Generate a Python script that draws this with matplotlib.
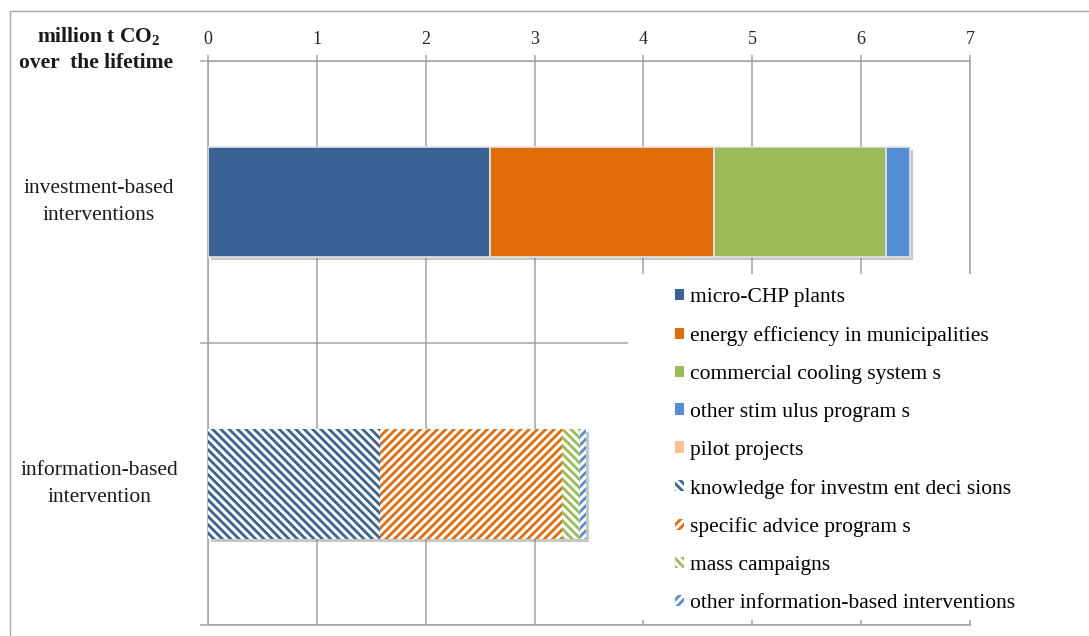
import numpy as np
import matplotlib
matplotlib.use('Agg')
import matplotlib.pyplot as plt
import matplotlib.transforms as mtransforms
from matplotlib import patheffects as pe
from matplotlib.patches import Patch, Rectangle
from matplotlib.lines import Line2D

plt.rcParams['font.family'] = ['Liberation Serif', 'DejaVu Serif']
plt.rcParams['mathtext.fontset'] = 'custom'
plt.rcParams['mathtext.rm'] = 'Liberation Serif'
plt.rcParams['mathtext.bf'] = 'Liberation Serif:bold'
plt.rcParams['hatch.linewidth'] = 2.0

# savings in million t CO2 over the lifetime
categories = ['investment-based\ninterventions', 'information-based\nintervention']

investment_names = ['micro-CHP plants', 'energy efficiency in municipalities',
                    'commercial cooling system s', 'other stim ulus program s', 'pilot projects']
investment_values = [2.59, 2.06, 1.58, 0.22, 0.0]
investment_colors = ['#386394', '#e36c0a', '#9bbb59', '#558ed5', '#fac090']

information_names = ['knowledge for investm ent deci sions', 'specific advice program s',
                     'mass campaigns', 'other information-based interventions']
information_values = [1.58, 1.67, 0.17, 0.05]
information_colors = ['#386394', '#e36c0a', '#9bbb59', '#558ed5']
information_hatches = ['\\\\\\\\', '////', '\\\\\\\\', '////']

grid_c = '#a3a3a3'
bar_h = 0.39

fig = plt.figure(figsize=(10.89, 6.36), dpi=100)
ax = fig.add_axes([208 / 1089, 1 - 625 / 636, (970 - 208) / 1089, (625 - 61) / 636])

# drop shadow behind each stacked bar
for y, vals in [(0, investment_values), (1, information_values)]:
    ax.barh(y, sum(vals), height=bar_h, color='white', lw=0, zorder=2,
            path_effects=[pe.SimplePatchShadow(offset=(2, -2.5), shadow_rgbFace='0.45', alpha=0.4),
                          pe.Normal()])

left = 0
for v, c in zip(investment_values, investment_colors):
    if v > 0:
        ax.barh(0, v, left=left, height=bar_h, color=c, edgecolor='#e4e4e4', lw=1.2, zorder=3)
    left += v

left = 0
for v, c, h in zip(information_values, information_colors, information_hatches):
    ax.barh(1, v, left=left, height=bar_h, facecolor='white', edgecolor=c, hatch=h, lw=0, zorder=3)
    left += v

ax.set_xlim(0, 7)
ax.set_ylim(1.5, -0.5)
ax.xaxis.tick_top()
ax.set_xticks(np.arange(0, 8))
ax.tick_params(axis='x', direction='out', length=4.5, width=1.1, color=grid_c,
               pad=5, labelsize=13, labelcolor='#262626')
ax.set_yticks([0, 1])
ax.set_yticklabels([])
ax.set_yticks([-0.5, 0.5, 1.5], minor=True)
ax.tick_params(axis='y', which='major', length=0)
ax.tick_params(axis='y', which='minor', direction='out', length=6, width=1.1, color=grid_c)
ax.grid(axis='x', which='major', color=grid_c, lw=1.1)
ax.grid(axis='y', which='minor', color=grid_c, lw=1.1)
ax.set_axisbelow(True)
for s in ax.spines.values():
    s.set_color(grid_c)
    s.set_linewidth(1.1)

# category labels centred in the left margin
trans = mtransforms.blended_transform_factory(fig.transFigure, ax.transData)
for i, lab in enumerate(categories):
    ax.text(99 / 1089, i, lab, transform=trans, ha='center', va='center',
            multialignment='center', fontsize=15.5, color='#1a1a1a', linespacing=1.55)

fig.text(99 / 1089, 1 - 37 / 636, r'million t CO$_\mathbf{2}$', ha='center', va='center',
         fontsize=15.5, fontweight='bold', color='#1a1a1a')
fig.text(96 / 1089, 1 - 63 / 636, 'over  the lifetime', ha='center', va='center',
         fontsize=15.5, fontweight='bold', color='#1a1a1a')

# white panel under the legend
fig.add_artist(Rectangle((628 / 1089, 1 - 620 / 636), (1060 - 628) / 1089, (620 - 274) / 636,
                         transform=fig.transFigure, facecolor='white', edgecolor='none', zorder=4))

handles = [Patch(facecolor=c, edgecolor=c, lw=0) for c in investment_colors]
handles += [Patch(facecolor='white', edgecolor=c, hatch=h, lw=0)
            for c, h in zip(information_colors, information_hatches)]
labels = investment_names + information_names
fig.legend(handles, labels, loc='upper left', bbox_to_anchor=(675 / 1089, 1 - 288 / 636),
           frameon=False, fontsize=15.5, handlelength=0.42, handleheight=0.42,
           handletextpad=0.3, labelspacing=0.88, borderaxespad=0, borderpad=0)

# outer chart frame
fig.add_artist(Line2D([10 / 1089, 1], [1 - 11 / 636] * 2, transform=fig.transFigure,
                      color='#a6a6a6', lw=1))
fig.add_artist(Line2D([10 / 1089] * 2, [0, 1 - 11 / 636], transform=fig.transFigure,
                      color='#a6a6a6', lw=1))

fig.savefig('out.png', dpi=100)
